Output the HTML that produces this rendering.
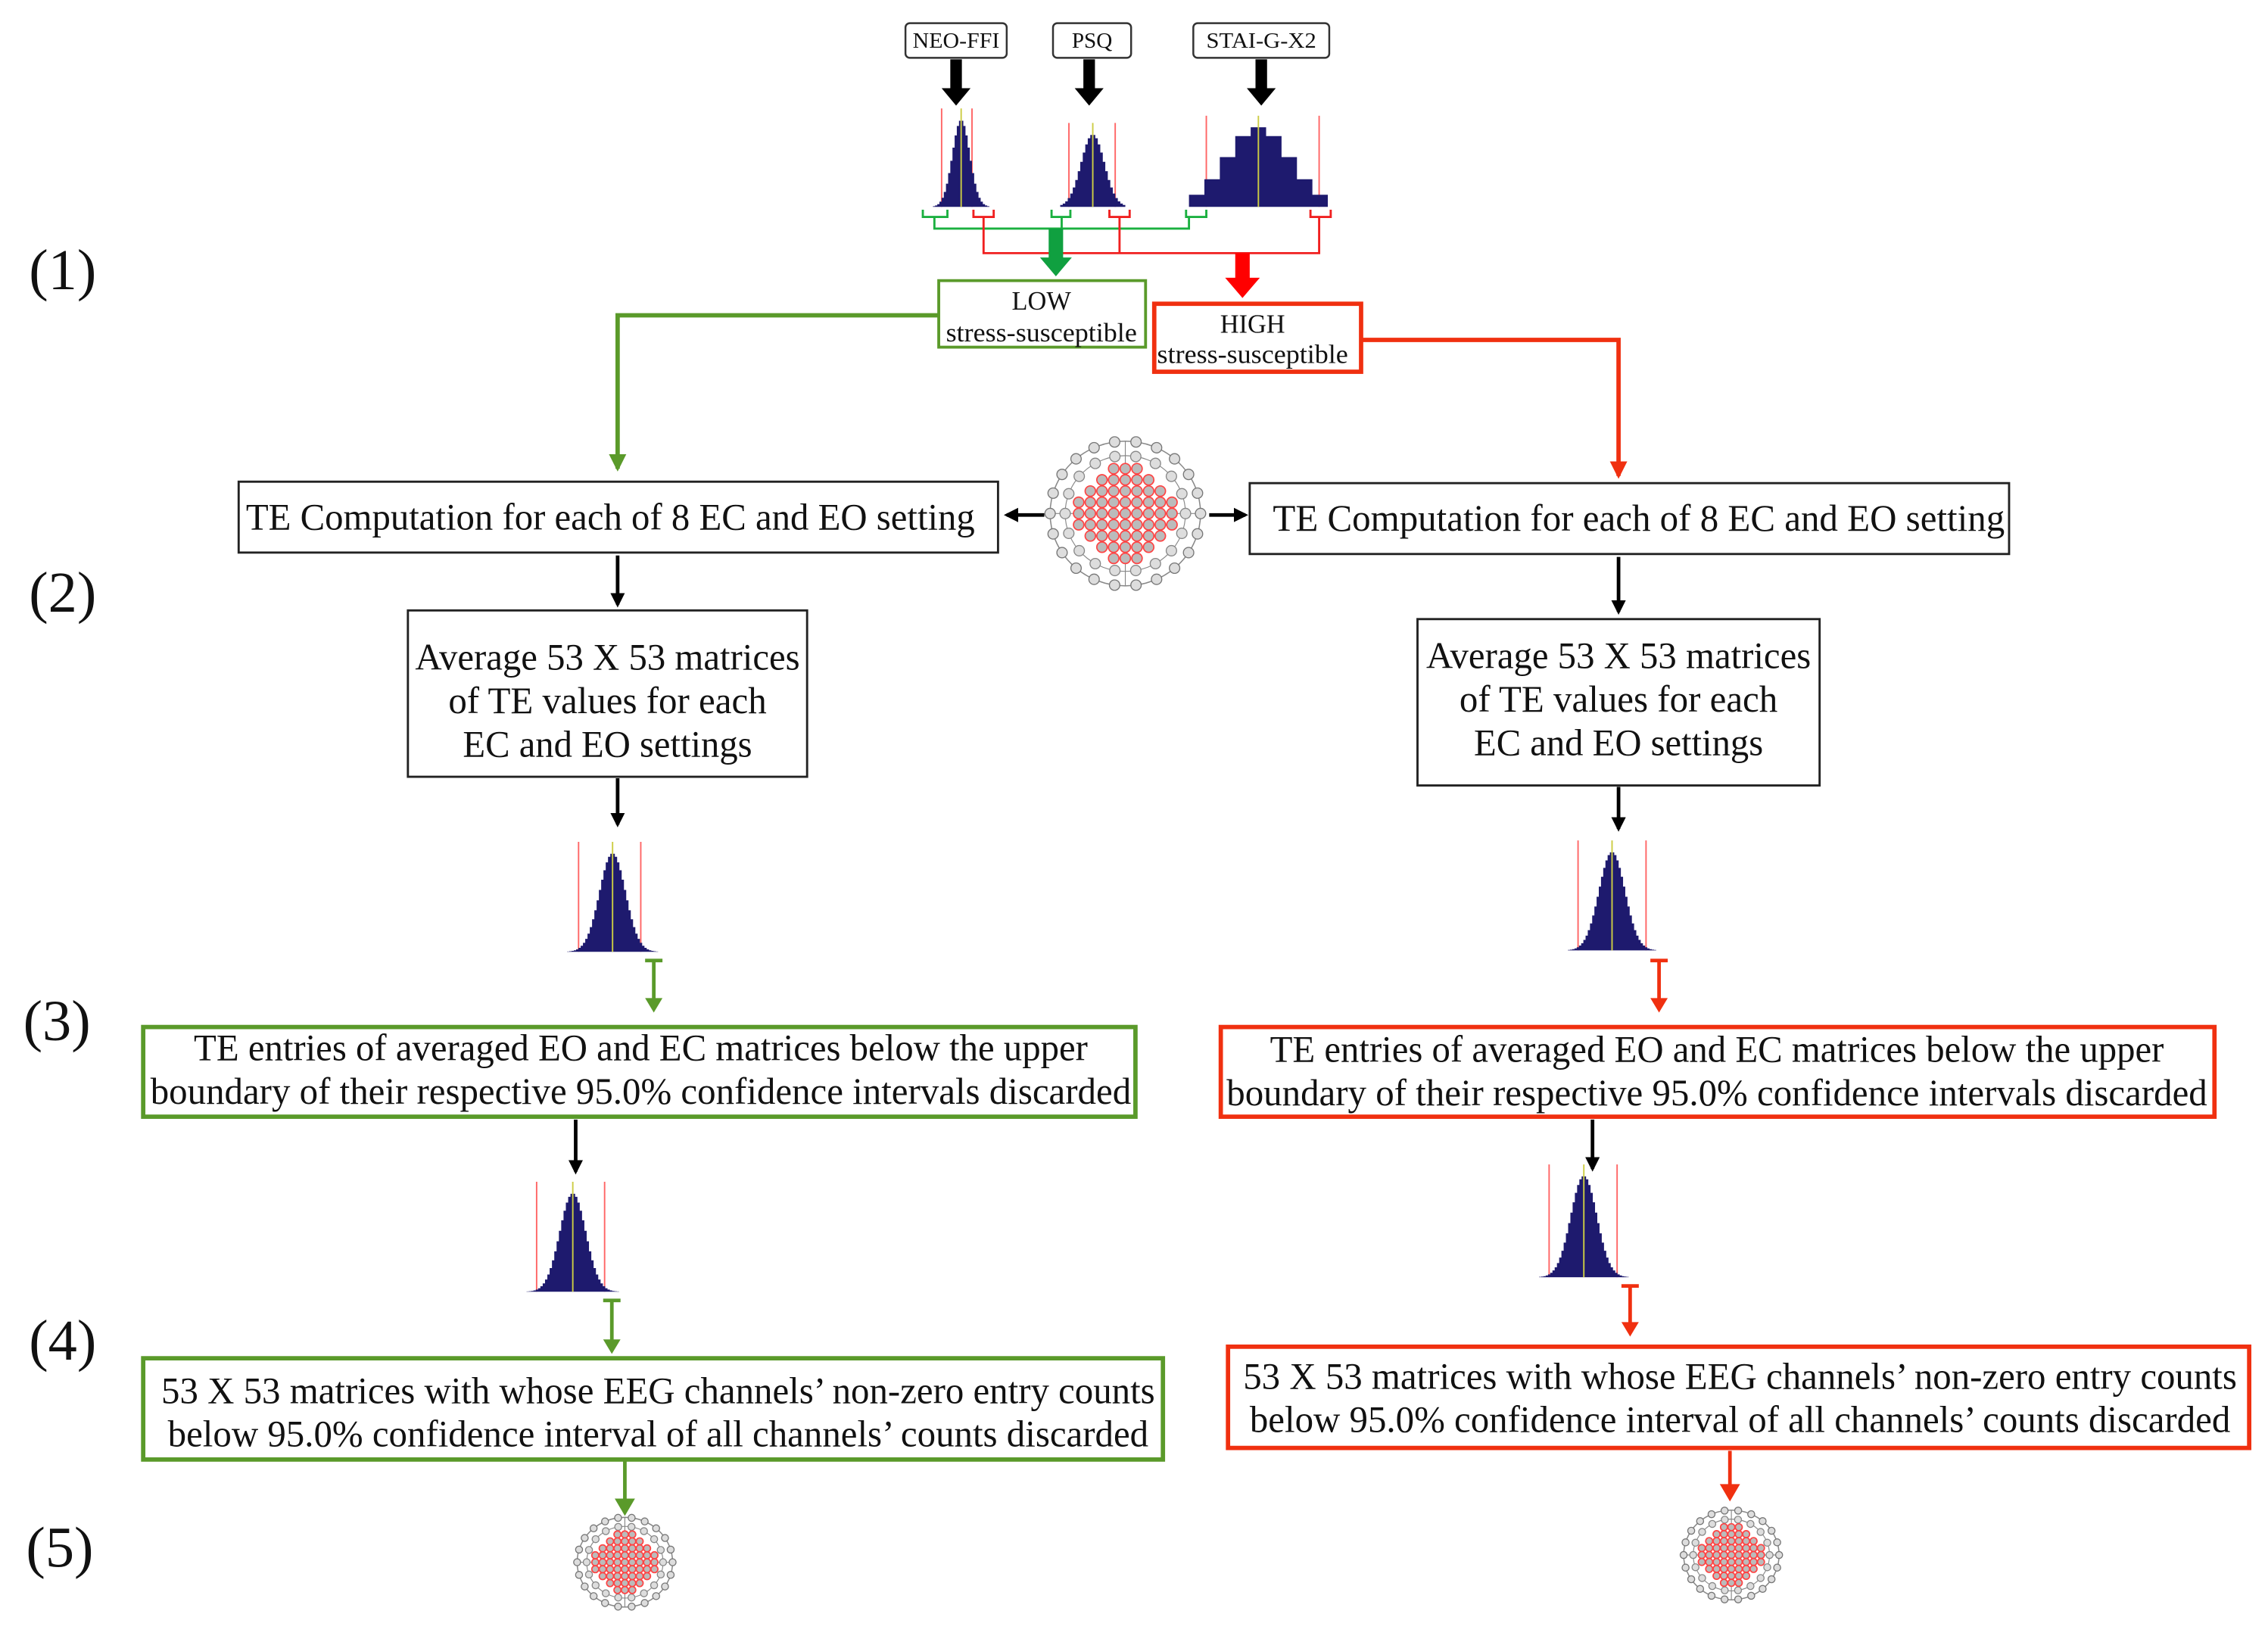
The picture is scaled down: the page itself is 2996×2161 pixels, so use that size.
<!DOCTYPE html>
<html><head><meta charset="utf-8"><style>
html,body{margin:0;padding:0;background:#fff;width:2996px;height:2161px;overflow:hidden}
svg{display:block}
text{font-family:"Liberation Serif",serif;fill:#111}
</style></head><body>
<svg id="s" width="2996" height="2161" viewBox="0 0 1568 1131" xmlns="http://www.w3.org/2000/svg">
<defs>
<marker id="ab" markerWidth="10" markerHeight="10" refX="8" refY="5" orient="auto" markerUnits="userSpaceOnUse"><path d="M0,0 L10,5 L0,10 z" fill="#000"/></marker>
<marker id="ag" markerWidth="12" markerHeight="12" refX="10" refY="6" orient="auto" markerUnits="userSpaceOnUse"><path d="M0,0 L12,6 L0,12 z" fill="#5a9a2a"/></marker>
<marker id="ar" markerWidth="12" markerHeight="12" refX="10" refY="6" orient="auto" markerUnits="userSpaceOnUse"><path d="M0,0 L12,6 L0,12 z" fill="#f03010"/></marker>
</defs>
<g font-size="40">
<text x="20" y="200">(1)</text><text x="20" y="423">(2)</text><text x="16" y="719">(3)</text><text x="20" y="940">(4)</text><text x="18" y="1083">(5)</text>
</g>
<g fill="#fff" stroke="#333" stroke-width="1.3">
<rect x="626" y="16" width="70" height="24" rx="3"/><rect x="728" y="16" width="54" height="24" rx="3"/><rect x="825" y="16" width="94" height="24" rx="3"/>
</g>
<g font-size="15" text-anchor="middle" lengthAdjust="spacingAndGlyphs"><text x="661" y="33" textLength="60" lengthAdjust="spacingAndGlyphs">NEO-FFI</text><text x="755" y="33" textLength="28" lengthAdjust="spacingAndGlyphs">PSQ</text><text x="872" y="33" textLength="76" lengthAdjust="spacingAndGlyphs">STAI-G-X2</text></g>
<g fill="#000">
<path d="M657,41h8v20h6l-10,12l-10,-12h6z"/><path d="M749,41h8v20h6l-10,12l-10,-12h6z"/><path d="M868,41h8v20h6l-10,12l-10,-12h6z"/>
</g>
<g id="hists"></g>
<g fill="none" stroke="#1bb040" stroke-width="1.5">
<path d="M638,145v5h17v-5M646,150v8h176v-8M727,145v5h13v-5M734,150v8M820,145v5h14v-5"/>
</g>
<g fill="none" stroke="#f02020" stroke-width="1.5">
<path d="M673,145v5h14v-5M680,150v25h232v-25M767,145v5h14v-5M774,150v25M906,145v5h14v-5"/>
</g>
<path d="M725,158h10v20h6l-11,13l-11,-13h6z" fill="#10a040"/>
<path d="M854,175h10v17h7l-12,14l-12,-14h7z" fill="#f00"/>
<rect x="649" y="194" width="143" height="46" fill="#fff" stroke="#5a9a2a" stroke-width="2"/>
<rect x="798" y="210" width="143" height="47" fill="#fff" stroke="#f03010" stroke-width="3"/>
<g font-size="18" text-anchor="middle"><text x="720" y="214">LOW</text><text x="720" y="236" textLength="132" lengthAdjust="spacingAndGlyphs">stress-susceptible</text>
<text x="866" y="230">HIGH</text><text x="866" y="251" textLength="132" lengthAdjust="spacingAndGlyphs">stress-susceptible</text></g>
<path d="M649,218H427V324" fill="none" stroke="#5a9a2a" stroke-width="3" marker-end="url(#ag)"/>
<path d="M941,235H1119V329" fill="none" stroke="#f03010" stroke-width="3" marker-end="url(#ar)"/>
<g fill="#fff" stroke="#222" stroke-width="1.5">
<rect x="165" y="333" width="525" height="49"/><rect x="864" y="334" width="525" height="49"/>
<rect x="282" y="422" width="276" height="115"/><rect x="980" y="428" width="278" height="115"/>
</g>
<g font-size="26" text-anchor="middle">
<text x="422" y="366" textLength="504" lengthAdjust="spacingAndGlyphs">TE Computation for each of 8 EC and EO setting</text>
<text x="1133" y="367" textLength="506" lengthAdjust="spacingAndGlyphs">TE Computation for each of 8 EC and EO setting</text>
<text x="420" y="463" textLength="266" lengthAdjust="spacingAndGlyphs">Average 53 X 53 matrices</text><text x="420" y="493" textLength="220" lengthAdjust="spacingAndGlyphs">of TE values for each</text><text x="420" y="523" textLength="200" lengthAdjust="spacingAndGlyphs">EC and EO settings</text>
<text x="1119" y="462" textLength="266" lengthAdjust="spacingAndGlyphs">Average 53 X 53 matrices</text><text x="1119" y="492" textLength="220" lengthAdjust="spacingAndGlyphs">of TE values for each</text><text x="1119" y="522" textLength="200" lengthAdjust="spacingAndGlyphs">EC and EO settings</text>
</g>
<g stroke="#000" stroke-width="2.5" marker-end="url(#ab)">
<line x1="722" y1="356" x2="696" y2="356"/><line x1="836" y1="356" x2="861" y2="356"/>
<line x1="427" y1="384" x2="427" y2="418"/><line x1="1119" y1="385" x2="1119" y2="423"/>
<line x1="427" y1="538" x2="427" y2="570"/><line x1="1119" y1="544" x2="1119" y2="573"/>
<line x1="398" y1="774" x2="398" y2="810"/><line x1="1101" y1="774" x2="1101" y2="808"/>
</g>
<g stroke="#5a9a2a" stroke-width="2.5" fill="none"><path d="M446,664h12M452,664v30"/><path d="M417,899h12M423,899v32"/><line x1="432" y1="1010" x2="432" y2="1043"/></g>
<g fill="#5a9a2a"><path d="M446,690h12l-6,10z"/><path d="M417,926h12l-6,10z"/><path d="M425,1036h14l-7,12z"/></g>
<g stroke="#f03010" stroke-width="2.5" fill="none"><path d="M1141,664h12M1147,664v30"/><path d="M1121,889h12M1127,889v29"/><line x1="1196" y1="1003" x2="1196" y2="1033"/></g>
<g fill="#f03010"><path d="M1141,690h12l-6,10z"/><path d="M1121,914h12l-6,10z"/><path d="M1189,1026h14l-7,12z"/></g>
<g fill="#fff" stroke-width="3">
<rect x="99" y="710" width="686" height="62" stroke="#5a9a2a"/><rect x="844" y="710" width="687" height="62" stroke="#f03010"/>
<rect x="99" y="939" width="705" height="70" stroke="#5a9a2a"/><rect x="849" y="931" width="706" height="70" stroke="#f03010"/>
</g>
<g font-size="26" text-anchor="middle">
<text x="443" y="733" textLength="618" lengthAdjust="spacingAndGlyphs">TE entries of averaged EO and EC matrices below the upper</text>
<text x="443" y="763" textLength="678" lengthAdjust="spacingAndGlyphs">boundary of their respective 95.0% confidence intervals discarded</text>
<text x="1187" y="734" textLength="618" lengthAdjust="spacingAndGlyphs">TE entries of averaged EO and EC matrices below the upper</text>
<text x="1187" y="764" textLength="678" lengthAdjust="spacingAndGlyphs">boundary of their respective 95.0% confidence intervals discarded</text>
<text x="455" y="970" textLength="687" lengthAdjust="spacingAndGlyphs">53 X 53 matrices with whose EEG channels’ non-zero entry counts</text>
<text x="455" y="1000" textLength="678" lengthAdjust="spacingAndGlyphs">below 95.0% confidence interval of all channels’ counts discarded</text>
<text x="1203" y="960" textLength="687" lengthAdjust="spacingAndGlyphs">53 X 53 matrices with whose EEG channels’ non-zero entry counts</text>
<text x="1203" y="990" textLength="678" lengthAdjust="spacingAndGlyphs">below 95.0% confidence interval of all channels’ counts discarded</text>
</g>
<g id="brains"></g>
</svg>
<script>
var NS="http://www.w3.org/2000/svg";
function el(p,t,a){var e=document.createElementNS(NS,t);for(var k in a)e.setAttribute(k,a[k]);p.appendChild(e);return e;}
var H=document.getElementById('hists');
function hist(x0,x1,yb,h,sig,steps,red1,red2){
  var n=steps,w=(x1-x0)/n,c=(x0+x1)/2,d="M"+x0+","+yb;
  for(var i=0;i<n;i++){var xc=x0+(i+.5)*w,z=(xc-c)/sig,v=h*Math.exp(-z*z/2);d+="L"+(x0+i*w)+","+(yb-v)+"L"+(x0+(i+1)*w)+","+(yb-v);}
  d+="L"+x1+","+yb+"z";
  el(H,'line',{x1:red1,y1:yb-h-8,x2:red1,y2:yb,stroke:"#f66",'stroke-width':1});
  el(H,'line',{x1:red2,y1:yb-h-8,x2:red2,y2:yb,stroke:"#f66",'stroke-width':1});
  el(H,'path',{d:d,fill:"#1e1a6e"});
  el(H,'line',{x1:c,y1:yb-h-8,x2:c,y2:yb,stroke:"#cc4",'stroke-width':1});
}
hist(645,684,143,60,6,26,651,672);
hist(733,778,143,50,8,26,739,771);
hist(822,918,143,55,22,9,834,912);
hist(392,455,658,68,9,40,400,443);
hist(1084,1145,657,68,9,40,1091,1138);
hist(364,428,893,68,9,40,371,418);
hist(1064,1126,883,70,9,40,1071,1118);
var B=document.getElementById('brains');
function brain(cx,cy,rx,ry,r){
  var g=el(B,'g',{});
  el(g,'ellipse',{cx:cx,cy:cy,rx:rx,ry:ry,fill:"none",stroke:"#888",'stroke-width':.8});
  el(g,'ellipse',{cx:cx,cy:cy,rx:rx*.8,ry:ry*.8,fill:"none",stroke:"#888",'stroke-width':.6});
  el(g,'line',{x1:cx,y1:cy-ry,x2:cx,y2:cy+ry,stroke:"#888",'stroke-width':.6});
  el(g,'line',{x1:cx-rx,y1:cy,x2:cx+rx,y2:cy,stroke:"#888",'stroke-width':.6});
  for(var a=0;a<22;a++){var t=a/22*2*Math.PI;el(g,'circle',{cx:cx+rx*Math.cos(t),cy:cy+ry*Math.sin(t),r:r,fill:"#ddd",stroke:"#777",'stroke-width':.7});}
  for(var a=0;a<18;a++){var t=a/18*2*Math.PI;el(g,'circle',{cx:cx+rx*.8*Math.cos(t),cy:cy+ry*.8*Math.sin(t),r:r,fill:"#ddd",stroke:"#888",'stroke-width':.7});}
  for(var j=-4;j<=4;j++)for(var i=-4;i<=4;i++){var x=i/4*rx*.62,y=j/4*ry*.62;if((x*x)/(rx*rx*.42)+(y*y)/(ry*ry*.42)>1)continue;
    el(g,'circle',{cx:cx+x,cy:cy+y,r:r,fill:"#bbb",stroke:"#f44",'stroke-width':.9});}
}
brain(778,355,52,50,3.6);
brain(432,1080,33,31,2.4);
brain(1197,1075,33,31,2.4);
</script>
</body></html>
